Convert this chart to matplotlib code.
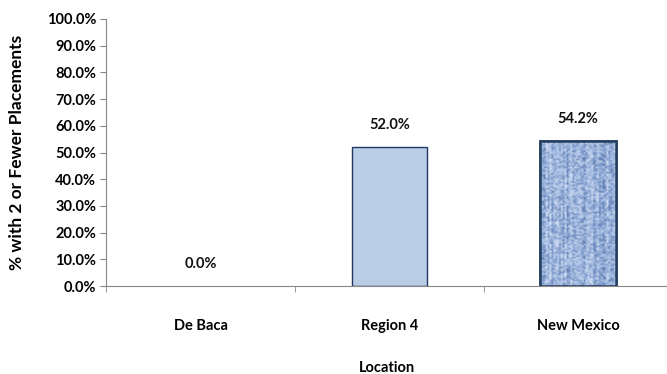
import numpy as np
import matplotlib
matplotlib.use("Agg")
import matplotlib.pyplot as plt
from matplotlib.colors import LinearSegmentedColormap

categories = ["De Baca", "Region 4", "New Mexico"]
values = [0.0, 52.0, 54.2]
yticks = [0, 10, 20, 30, 40, 50, 60, 70, 80, 90, 100]

plt.rcParams['font.family'] = ['Lato', 'DejaVu Sans']
FS = 10.5
fig = plt.figure(figsize=(6.67, 3.74), dpi=100)
ax = fig.add_axes([106/667, 1-286/374, 1-106/667, (286-19)/374])

x = np.arange(len(categories))
bw = 0.40
edges = ["#1F3864" if v > 0 else "none" for v in values]
bars = ax.bar(x, values, width=bw, color=["#B9CDE5", "#B9CDE5", "#8EA9DB"],
              edgecolor=edges, linewidth=[1.0, 1.0, 1.8], zorder=2)

# textured fill for New Mexico bar
rng = np.random.default_rng(3)
tex = rng.random((90, 40))
tex = 0.65 * tex + 0.35 * np.repeat(rng.random((1, 40)), 90, axis=0)
cmap = LinearSegmentedColormap.from_list("tex", ["#5878AE", "#9DB5DE", "#DCE6F6"])
b = bars[2]
im = ax.imshow(tex, cmap=cmap, extent=[b.get_x(), b.get_x()+b.get_width(), 0, b.get_height()],
               aspect='auto', zorder=2.5, interpolation='bilinear')
im.set_clip_path(b)
ax.bar([x[2]], [values[2]], width=bw, fill=False, edgecolor="#243F60", linewidth=1.8, zorder=3)

for xi, v in zip(x, values):
    ax.annotate(f"{v:.1f}%", (xi, v), xytext=(0, 11), textcoords="offset points",
                ha="center", va="bottom", fontsize=FS, fontweight="bold", color="#111111")

ax.set_xlim(-0.5, 2.47)
ax.set_ylim(0, 100)
ax.set_yticks(yticks)
ax.set_yticklabels([f"{t:.1f}%" for t in yticks], fontsize=FS, fontweight="bold")
ax.set_xticks(x)
ax.set_xticklabels(categories, fontsize=FS, fontweight="bold")
ax.set_xticks([-0.5, 0.5, 1.5], minor=True)
ax.tick_params(axis='x', which='major', length=0, pad=24)
ax.tick_params(axis='x', which='minor', length=4, color="#868686")
ax.tick_params(axis='y', length=4, color="#868686", pad=3)
for s in ["top", "right"]:
    ax.spines[s].set_visible(False)
for s in ["left", "bottom"]:
    ax.spines[s].set_color("#868686")
ax.set_ylabel("% with 2 or Fewer Placements", fontsize=12.5, fontweight="bold")
ax.yaxis.set_label_coords(-(106-25)/(667-106), 0.5)
ax.set_xlabel("Location", fontsize=FS, fontweight="bold", labelpad=20)

fig.savefig("out.png", dpi=100)
